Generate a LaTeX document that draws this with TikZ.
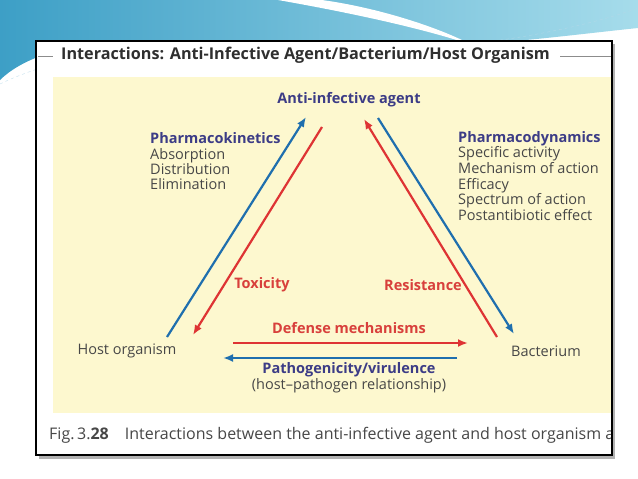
\documentclass[tikz,border=0pt]{standalone}
\usepackage{fontspec}
\setmainfont{Open Sans}
\usetikzlibrary{arrows.meta,shadings}
\definecolor{cream}{HTML}{FDF8CF}
\definecolor{dblue}{HTML}{3C3C86}
\definecolor{gtext}{HTML}{474747}
\definecolor{rline}{HTML}{DE3434}
\definecolor{rtext}{HTML}{D8403C}
\definecolor{bline}{HTML}{1F6FAE}
\definecolor{ttext}{HTML}{2F2F2F}
\definecolor{sky1}{HTML}{3D9FC6}
\definecolor{sky2}{HTML}{A6DCEB}
\tikzset{
  lab/.style={font=\fontsize{14.5}{15.4}\selectfont, text=gtext, inner sep=0pt},
  hd/.style={font=\fontsize{14.5}{15.4}\selectfont\bfseries, inner sep=0pt},
  redarr/.style={draw=rline, line width=2.2pt, -{Latex[length=10pt,width=8pt]}},
  bluearr/.style={draw=bline, line width=2.2pt, -{Latex[length=10pt,width=8pt]}},
}
\begin{document}
\begin{tikzpicture}[x=1pt,y=-1pt]
\useasboundingbox (0,0) rectangle (638,479);
\fill[white] (0,0) rectangle (638,479);
% slide decoration
\shade[left color=sky1,right color=sky2] (0,0) -- (638,0) -- (638,28)
  .. controls (580,34) and (520,42) .. (470,44) -- (100,44)
  .. controls (60,46) and (20,60) .. (0,80) -- cycle;
\fill[white] (278,0) .. controls (380,18) and (440,34) .. (472,45)
  .. controls (440,28) and (380,8) .. (322,0) -- cycle;
\draw[white!70!sky1, dashed, line width=0.4pt] (0,84) .. controls (20,74) and (60,60) .. (100,52);
\draw[white!60!sky1, dashed, line width=0.4pt] (470,44) .. controls (540,36) and (600,22) .. (638,8);
% frame
\fill[black!30] (39,44) rectangle (615,459);
\fill[white] (36,41) rectangle (612,455);
\begin{scope}
\clip (36,41) rectangle (612,455);
\fill[cream] (53,77) rectangle (612,413);
\draw[black!45, line width=0.8pt] (38,56) -- (53,56);
\draw[black!45, line width=0.8pt] (560,56) -- (612,56);
\node[font=\fontsize{16.2}{18}\selectfont\bfseries, text=ttext, anchor=west, inner sep=0pt] (title) at (61,55) {Interactions: Anti-Infective Agent/Bacterium/Host Organism};
\node[lab, anchor=west, font=\fontsize{16}{17}\selectfont] (cap) at (49,435) {Fig.\,3.\textbf{28}\quad Interactions between the anti-infective agent and host organism and};
\end{scope}
\draw[black, line width=2pt] (36,41) rectangle (612,455);
% text nodes
\node[hd, text=dblue] (agent) at (349,100) {Anti-infective agent};
\node[lab, anchor=north west, align=left] (pk) at (150,132.5) {\textcolor{dblue}{\bfseries Pharmacokinetics}\\Absorption\\Distribution\\Elimination};
\node[lab, anchor=north west, align=left, font=\fontsize{14.5}{15.6}\selectfont] (pd) at (458,131) {\textcolor{dblue}{\bfseries Pharmacodynamics}\\Specific activity\\Mechanism of action\\Efficacy\\Spectrum of action\\Postantibiotic effect};
\node[lab] (host) at (127,351) {Host organism};
\node[lab] (bact) at (546,351) {Bacterium};
\node[hd, text=rtext] (tox) at (262,285) {Toxicity};
\node[hd, text=rtext] (res) at (423,285) {Resistance};
\node[hd, text=rtext] (def) at (349,328) {Defense mechanisms};
\node[hd, text=dblue] (path) at (349,370) {Pathogenicity/virulence};
\node[lab] (rel) at (349,386) {(host--pathogen relationship)};
% arrow end points
\coordinate (b1s) at (167,337); \coordinate (b1e) at (306,117);
\coordinate (r1s) at (322,127); \coordinate (r1e) at (193,335);
\coordinate (r2s) at (497,337); \coordinate (r2e) at (364,119);
\coordinate (b2s) at (378,118); \coordinate (b2e) at (514,334);
\coordinate (r3s) at (233,343); \coordinate (r3e) at (468,343);
\coordinate (b3s) at (457,358); \coordinate (b3e) at (223,358);
\draw[bluearr] (b1s) -- (b1e);
\draw[redarr] (r1s) -- (r1e);
\draw[redarr] (r2s) -- (r2e);
\draw[bluearr] (b2s) -- (b2e);
\draw[redarr] (r3s) -- (r3e);
\draw[bluearr] (b3s) -- (b3e);
\end{tikzpicture}
\end{document}
